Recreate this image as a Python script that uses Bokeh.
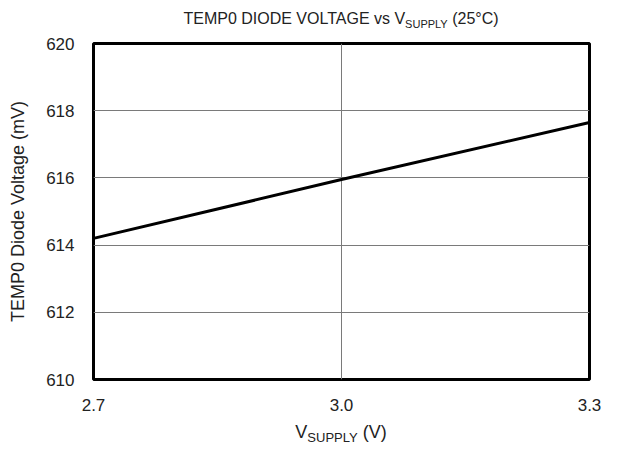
from bokeh.plotting import figure
from bokeh.models import FixedTicker, Range1d, PrintfTickFormatter, Div
from bokeh.layouts import column
from bokeh.embed import file_html
from bokeh.resources import INLINE

# data
vsupply = [2.7, 3.0, 3.3]
diode_mv = [614.2, 615.95, 617.65]
x_ticks = [2.7, 3.0, 3.3]
y_ticks = [610, 612, 614, 616, 618, 620]
title_main, title_sub, title_tail = "TEMP0 DIODE VOLTAGE vs V", "SUPPLY", " (25°C)"
xlab_main, xlab_sub, xlab_tail = "V", "SUPPLY", " (V)"
ylab = "TEMP0 Diode Voltage (mV)"

FONT = "Liberation Sans"
TXT = "#222222"

p = figure(width=612, height=393, output_backend="svg", toolbar_location=None, title=None,
           x_range=Range1d(2.7, 3.3), y_range=Range1d(610, 620),
           min_border_left=93, min_border_right=23, min_border_top=15, min_border_bottom=42)

p.line(vsupply, diode_mv, line_color="black", line_width=3)

p.outline_line_color = "black"
p.outline_line_width = 3
p.outline_line_alpha = 1.0

for ax in (p.xaxis[0], p.yaxis[0]):
    ax.axis_line_color = None
    ax.major_tick_line_color = None
    ax.minor_tick_line_color = None
    ax.major_tick_out = 0
    ax.major_tick_in = 0
    ax.major_label_text_font = FONT
    ax.major_label_text_font_size = "17px"
    ax.major_label_text_color = TXT
p.xaxis[0].ticker = FixedTicker(ticks=x_ticks)
p.xaxis[0].formatter = PrintfTickFormatter(format="%.1f")
p.yaxis[0].ticker = FixedTicker(ticks=y_ticks)
p.xaxis[0].major_label_standoff = 19
p.yaxis[0].major_label_standoff = 19

p.yaxis[0].axis_label = ylab
p.yaxis[0].axis_label_text_font = FONT
p.yaxis[0].axis_label_text_font_size = "18px"
p.yaxis[0].axis_label_text_font_style = "normal"
p.yaxis[0].axis_label_text_color = TXT
p.yaxis[0].axis_label_standoff = 15

p.xgrid[0].ticker = FixedTicker(ticks=x_ticks)
p.ygrid[0].ticker = FixedTicker(ticks=y_ticks)
for g in (p.xgrid[0], p.ygrid[0]):
    g.grid_line_color = "#7a7a7a"
    g.grid_line_width = 1

def style(size, pad):
    return {"font-family": FONT, "font-size": size, "color": TXT, "text-align": "center",
            "line-height": "18px", "white-space": "nowrap", "padding-top": pad}

def sub_html(a, b, c, sub_size):
    return (f'{a}<span style="font-size:{sub_size}; position:relative; top:4px;">{b}</span>{c}')

title_div = Div(text=sub_html(title_main, title_sub, title_tail, "11px"), width=496, height=28,
                margin=(0, 0, 0, 93), styles=style("16px", "10px"))
xlab_div = Div(text=sub_html(xlab_main, xlab_sub, xlab_tail, "13px"), width=496, height=30,
               margin=(0, 0, 0, 93), styles=style("18px", "2px"))

layout = column(title_div, p, xlab_div, spacing=0)

open("out.html", "w").write(file_html(layout, INLINE))
